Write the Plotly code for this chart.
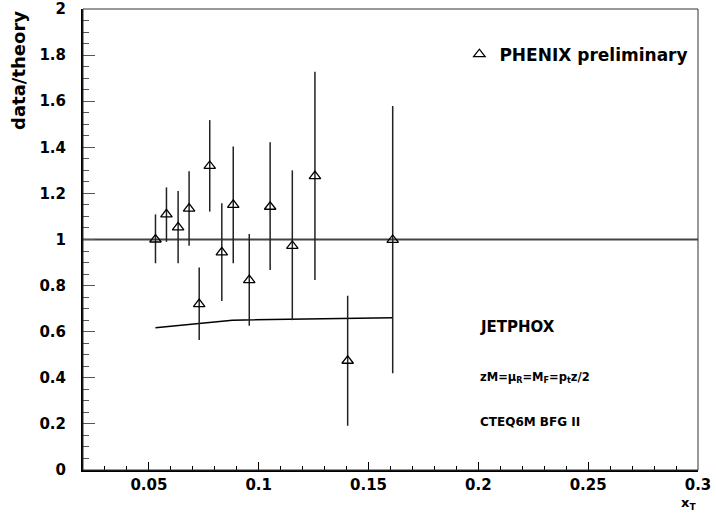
import plotly.graph_objects as go

# PHENIX preliminary data/theory points
xt = [0.053, 0.058, 0.0633, 0.0683, 0.0729, 0.0777, 0.0832, 0.0884, 0.0957, 0.1052, 0.1153, 0.1256, 0.1405, 0.161]
ratio = [1.0, 1.109, 1.053, 1.134, 0.72, 1.319, 0.944, 1.15, 0.824, 1.142, 0.972, 1.275, 0.474, 0.998]
upper = [1.109, 1.226, 1.21, 1.296, 0.879, 1.518, 1.157, 1.403, 1.024, 1.422, 1.30, 1.728, 0.756, 1.579]
lower = [0.897, 0.99, 0.897, 0.973, 0.564, 1.121, 0.733, 0.897, 0.626, 0.868, 0.65, 0.824, 0.192, 0.42]

# JETPHOX curve
jet_x = [0.053, 0.088, 0.161]
jet_y = [0.617, 0.650, 0.661]

x_range = [0.02, 0.3]
y_range = [0, 2]

err_plus = [u - r for u, r in zip(upper, ratio)]
err_minus = [r - l for r, l in zip(ratio, lower)]

FONT = "DejaVu Sans"

fig = go.Figure()

fig.add_trace(go.Scatter(
    x=jet_x, y=jet_y, mode="lines",
    line=dict(color="black", width=1.5),
    showlegend=False, hoverinfo="skip",
))

fig.add_trace(go.Scatter(
    x=xt, y=ratio, mode="markers", name="PHENIX preliminary",
    marker=dict(symbol="triangle-up-open", size=10, color="black", line=dict(width=1.3, color="black")),
    error_y=dict(type="data", symmetric=False, array=err_plus, arrayminus=err_minus,
                 width=0, thickness=1.5, color="#222222"),
    showlegend=True,
))

# horizontal reference line at 1
fig.add_shape(type="line", xref="x", yref="y", x0=x_range[0], x1=x_range[1], y0=1, y1=1,
              line=dict(color="#444444", width=2), layer="below")

# frame top/right
fig.add_shape(type="rect", xref="paper", yref="paper", x0=0, x1=1, y0=0, y1=1,
              line=dict(color="#333333", width=1), layer="above")

fig.update_layout(
    width=716, height=516,
    margin=dict(l=83, r=18, t=9, b=46, autoexpand=False),
    paper_bgcolor="white", plot_bgcolor="white",
    font=dict(family=FONT, color="black"),
    legend=dict(x=0.612, y=0.94, xanchor="left", yanchor="top",
                font=dict(family=FONT, size=17, color="black", weight="bold"),
                bgcolor="rgba(0,0,0,0)", itemwidth=30),
    xaxis=dict(range=x_range, showgrid=False, zeroline=False, automargin=False,
               showline=True, linecolor="black", linewidth=2,
               ticks="inside", tick0=0, dtick=0.05, ticklen=8, tickwidth=1.3, tickcolor="black",
               minor=dict(ticks="inside", dtick=0.01, ticklen=4, tickwidth=1, tickcolor="black"),
               tickfont=dict(family=FONT, size=15, color="black", weight="bold")),
    yaxis=dict(range=y_range, showgrid=False, zeroline=False, automargin=False,
               showline=True, linecolor="black", linewidth=2,
               ticks="inside", tick0=0, dtick=0.2, ticklen=12, tickwidth=1.3, tickcolor="#555555",
               minor=dict(ticks="inside", dtick=0.05, ticklen=6, tickwidth=1, tickcolor="#555555"),
               ticklabelstandoff=12,
               tickfont=dict(family=FONT, size=15, color="black", weight="bold")),
)

annos = [
    dict(text="data/theory", x=-0.105, y=1.0, xref="paper", yref="paper", textangle=-90,
         xanchor="center", yanchor="top", showarrow=False,
         font=dict(family=FONT, size=18, color="black", weight="bold")),
    dict(text="x<sub>T</sub>", x=0.985, y=-0.05, xref="paper", yref="paper",
         xanchor="center", yanchor="top", showarrow=False,
         font=dict(family=FONT, size=13, color="black", weight="bold")),
    dict(text="JETPHOX", x=0.643, y=0.31, xref="paper", yref="paper",
         xanchor="left", yanchor="middle", showarrow=False,
         font=dict(family=FONT, size=15, color="black", weight="bold")),
    dict(text="zM=μ<sub>R</sub>=M<sub>F</sub>=p<sub>t</sub>z/2", x=0.643, y=0.2, xref="paper", yref="paper",
         xanchor="left", yanchor="middle", showarrow=False,
         font=dict(family=FONT, size=11.5, color="black", weight="bold")),
    dict(text="CTEQ6M BFG II", x=0.643, y=0.105, xref="paper", yref="paper",
         xanchor="left", yanchor="middle", showarrow=False,
         font=dict(family=FONT, size=12, color="black", weight="bold")),
]
fig.update_layout(annotations=annos)

fig.write_html("out.html", config={"displayModeBar": False},
               post_script="document.body.style.margin='0';")
